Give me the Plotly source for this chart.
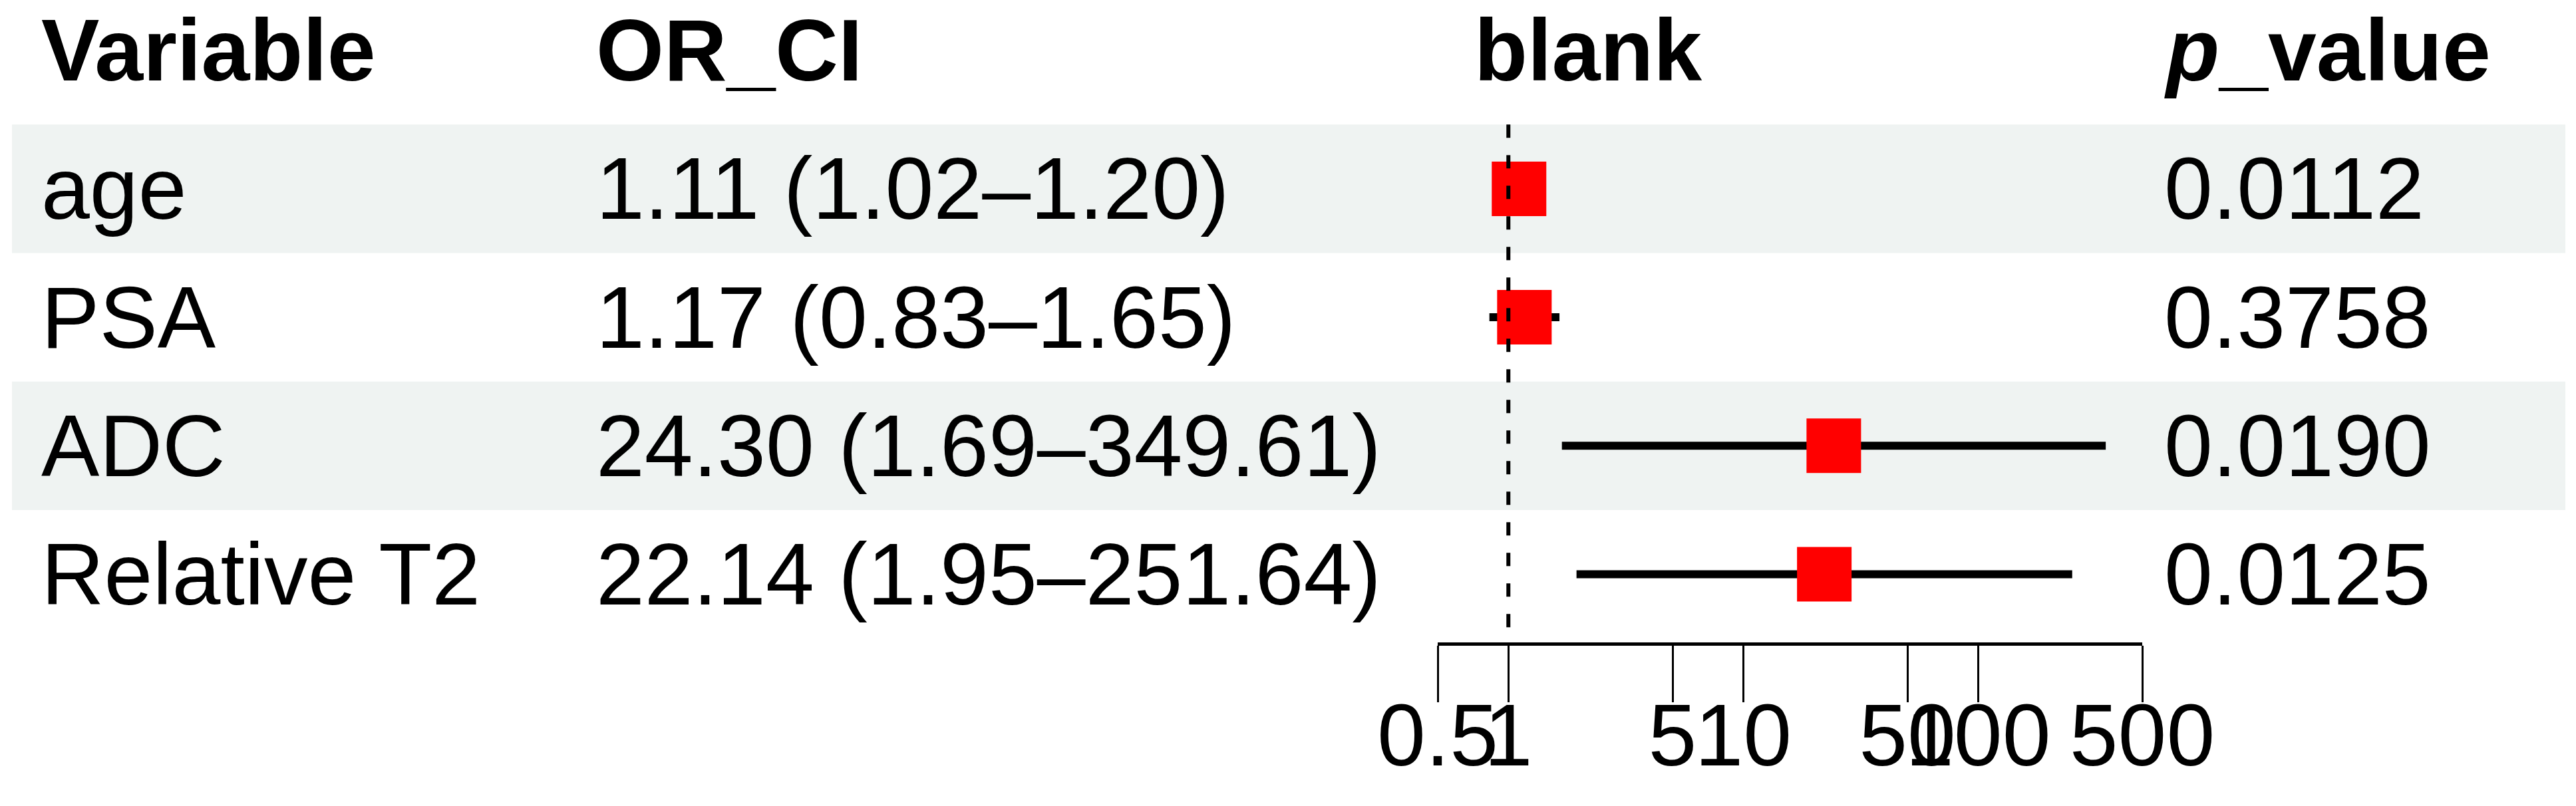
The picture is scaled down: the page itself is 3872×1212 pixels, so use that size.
import plotly.graph_objects as go

# data
variables = ["age", "PSA", "ADC", "Relative T2"]
odds_ratio = [1.11, 1.17, 24.30, 22.14]
ci_low = [1.02, 0.83, 1.69, 1.95]
ci_high = [1.20, 1.65, 349.61, 251.64]
p_values = ["0.0112", "0.3758", "0.0190", "0.0125"]
headers = ["Variable", "OR_CI", "blank", "<i>p</i>_value"]
tick_vals = [0.5, 1, 5, 10, 50, 100, 500]
tick_text = ["0.5", "1", "5", "10", "50", "100", "500"]

W, H = 3872, 1212
FONT = "Liberation Sans, Arial, sans-serif"
FS = 131

# rows from top to bottom: header at 5, then the variables
row_y = [4 - i for i in range(len(variables))]
header_y = 5.08
or_ci = ["%.2f (%.2f\u2013%.2f)" % (o, l, h) for o, l, h in zip(odds_ratio, ci_low, ci_high)]

# column x positions in paper units (plot area spans whole width)
col_x = [60 / W, 894 / W, 2214 / W, 3251 / W]

fig = go.Figure()

fig.add_trace(go.Scatter(
    x=odds_ratio, y=row_y, mode="markers",
    marker=dict(symbol="square", size=82, color="#FF0000", line=dict(width=0)),
    error_x=dict(type="data", symmetric=False,
                 array=[h - o for h, o in zip(ci_high, odds_ratio)],
                 arrayminus=[o - l for o, l in zip(odds_ratio, ci_low)],
                 thickness=12, width=0, color="black"),
    showlegend=False, hoverinfo="skip", cliponaxis=False,
))

shapes = []
for i, y in enumerate(row_y):
    if i % 2 == 0:
        shapes.append(dict(type="rect", xref="paper", yref="y",
                           x0=18 / W, x1=3856 / W, y0=y - 0.5, y1=y + 0.5,
                           fillcolor="#EFF3F2", line=dict(width=0), layer="below"))
# reference line at OR = 1
shapes.append(dict(type="line", xref="x", yref="y", x0=1, x1=1,
                   y0=row_y[0] + 0.5, y1=0.4695,
                   line=dict(color="black", width=6, dash="20px,26px")))

annotations = []
for x, h in zip(col_x, headers):
    annotations.append(dict(x=x, y=header_y, xref="paper", yref="y", text="<b>%s</b>" % h,
                            showarrow=False, xanchor="left", yanchor="middle",
                            font=dict(family=FONT, size=FS, color="black")))
for y, v, c, p in zip(row_y, variables, or_ci, p_values):
    for x, t in zip([col_x[0], col_x[1], col_x[3]], [v, c, p]):
        annotations.append(dict(x=x, y=y, xref="paper", yref="y", text=t,
                                showarrow=False, xanchor="left", yanchor="middle",
                                font=dict(family=FONT, size=FS, color="black")))

fig.update_layout(
    template="none",
    width=W, height=H, autosize=False,
    margin=dict(l=0, r=0, t=0, b=246, pad=0),
    paper_bgcolor="white", plot_bgcolor="rgba(0,0,0,0)",
    shapes=shapes, annotations=annotations,
    font=dict(family=FONT, size=FS, color="black"),
    xaxis=dict(type="log", domain=[2161 / W, 3220 / W],
               range=[-0.30103, 2.69897], automargin=False,
               tickvals=tick_vals, ticktext=tick_text, tickangle=0,
               ticklabelstandoff=-62,
               showgrid=False, zeroline=False,
               showline=True, linewidth=5, linecolor="black",
               ticks="outside", ticklen=85, tickwidth=3, tickcolor="black",
               tickfont=dict(family=FONT, size=FS, color="black")),
    yaxis=dict(range=[0.4695, 5.4695], visible=False, fixedrange=True,
               automargin=False),
)

# drop the browser's default body margin so the figure sits at the page corner
fig.write_html("out.html", config={"displayModeBar": False},
               post_script="document.body.style.margin='0px';")
